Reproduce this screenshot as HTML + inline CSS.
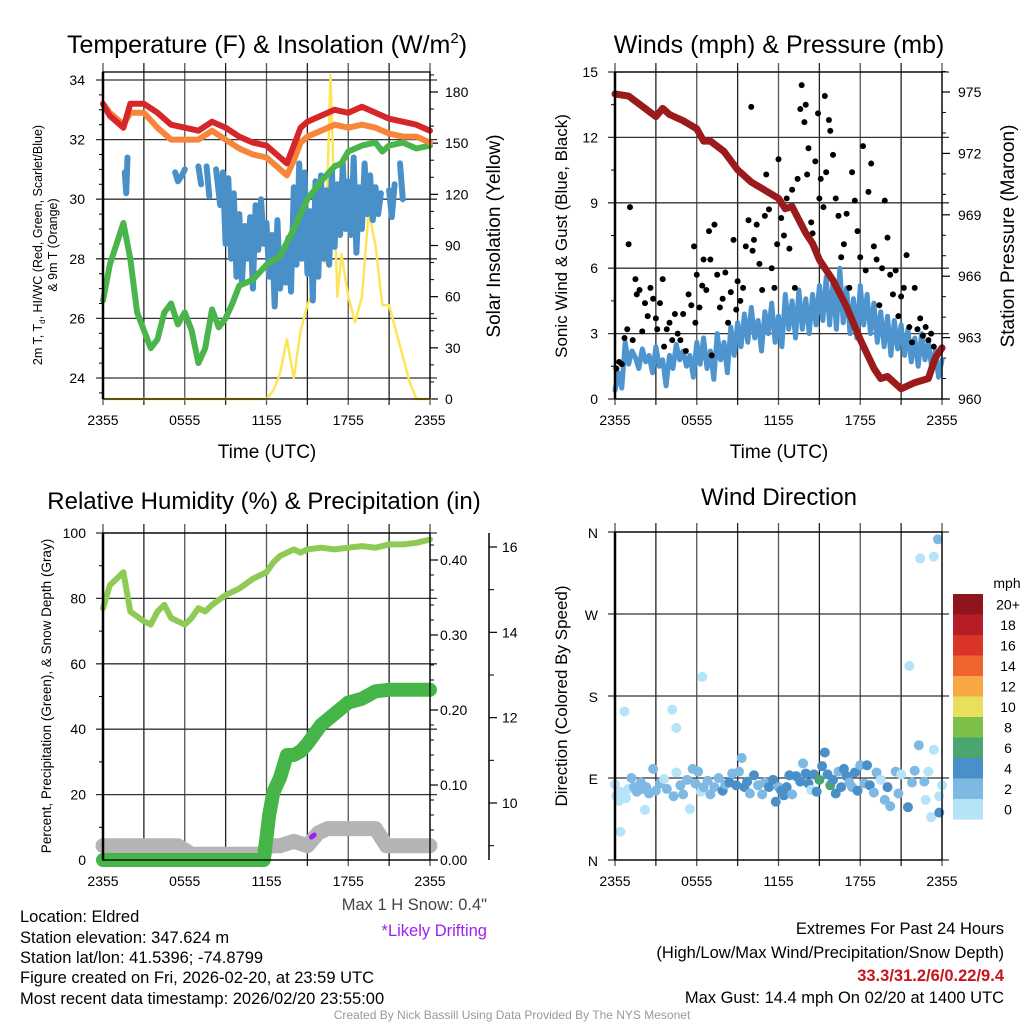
<!DOCTYPE html>
<html><head><meta charset="utf-8">
<style>
html,body{margin:0;padding:0;background:#fff;}
svg{display:block;font-family:"Liberation Sans",Arial,sans-serif;}
</style></head>
<body>
<svg id="chart" xmlns="http://www.w3.org/2000/svg" width="1024" height="1024" viewBox="0 0 1024 1024">
<rect width="1024" height="1024" fill="#fff"/>
<g id="g1"></g>
<g id="g2"></g>
<g id="g3"></g>
<g id="g4"></g>
<g id="txt" font-size="16.5">
<text x="267" y="53" font-size="25" text-anchor="middle">Temperature (F) &amp; Insolation (W/m<tspan font-size="15" dy="-10">2</tspan><tspan dy="10">)</tspan></text>
<text x="779" y="53" font-size="25" text-anchor="middle">Winds (mph) &amp; Pressure (mb)</text>
<text x="264" y="509" font-size="24" text-anchor="middle">Relative Humidity (%) &amp; Precipitation (in)</text>
<text x="779" y="505" font-size="24" text-anchor="middle">Wind Direction</text>
<text x="267" y="458" font-size="19" text-anchor="middle">Time (UTC)</text>
<text x="779" y="458" font-size="19" text-anchor="middle">Time (UTC)</text>
<text transform="translate(42,245) rotate(-90)" font-size="12.5" text-anchor="middle">2m T, T<tspan font-size="8" dy="3">d</tspan><tspan dy="-3">, HI/WC (Red, Green, Scarlet/Blue)</tspan></text>
<text transform="translate(57,245) rotate(-90)" font-size="12.5" text-anchor="middle">&amp; 9m T (Orange)</text>
<text transform="translate(500,236) rotate(-90)" font-size="19" text-anchor="middle">Solar Insolation (Yellow)</text>
<text transform="translate(567,236) rotate(-90)" font-size="17" text-anchor="middle">Sonic Wind &amp; Gust (Blue, Black)</text>
<text transform="translate(1014,236) rotate(-90)" font-size="19" text-anchor="middle">Station Pressure (Maroon)</text>
<text transform="translate(51,696) rotate(-90)" font-size="13.5" text-anchor="middle">Percent, Precipitation (Green), &amp; Snow Depth (Gray)</text>
<text transform="translate(567,696) rotate(-90)" font-size="17" text-anchor="middle">Direction (Colored By Speed)</text>
<text x="487" y="910" fill="#444" text-anchor="end">Max 1 H Snow: 0.4"</text>
<text x="487" y="936" fill="#a020f0" text-anchor="end">*Likely Drifting</text>
<text x="20" y="922">Location: Eldred</text>
<text x="20" y="943">Station elevation: 347.624 m</text>
<text x="20" y="963">Station lat/lon: 41.5396; -74.8799</text>
<text x="20" y="983">Figure created on Fri, 2026-02-20, at 23:59 UTC</text>
<text x="20" y="1004">Most recent data timestamp: 2026/02/20 23:55:00</text>
<text x="1004" y="934" text-anchor="end">Extremes For Past 24 Hours</text>
<text x="1004" y="958" text-anchor="end">(High/Low/Max Wind/Precipitation/Snow Depth)</text>
<text x="1004" y="981" text-anchor="end" fill="#c8141e" font-weight="bold">33.3/31.2/6/0.22/9.4</text>
<text x="1004" y="1003" text-anchor="end">Max Gust: 14.4 mph On 02/20 at 1400 UTC</text>
<text x="512" y="1019" text-anchor="middle" font-size="12" fill="#999">Created By Nick Bassill Using Data Provided By The NYS Mesonet</text>
</g>
</svg>
<script>
// ---------- data ----------
const xTickLabels = ["2355","0555","1155","1755","2355"];
const tempTicks = [24,26,28,30,32,34];
const insolTicks = [0,30,60,90,120,150,180];
const tempT = [0,0.5,1,1.5,2,3,4,5,6,7,8,9,10,11,12,13,13.5,14,14.5,15,16,17,18,19,20,21,22,23,24];
const tempRed = [33.2,32.8,32.6,32.4,33.2,33.2,32.9,32.5,32.4,32.3,32.6,32.4,32.1,31.9,31.8,31.4,31.2,31.8,32.4,32.6,32.8,33.0,32.9,33.1,32.9,32.7,32.6,32.5,32.3];
const tempOrange = [33.2,32.9,32.7,32.5,32.9,32.9,32.4,32.0,32.0,32.0,32.3,32.0,31.7,31.5,31.4,31.0,30.8,31.3,31.9,32.1,32.3,32.5,32.4,32.5,32.4,32.2,32.1,32.1,31.9];
const dewT = [0,0.5,1,1.5,2,2.5,3,3.5,4,4.5,5,5.5,6,6.5,7,7.5,8,8.5,9,9.5,10,11,12,13,14,15,16,17,17.5,18,19,20,20.5,21,22,23,24];
const dewV = [26.6,27.8,28.5,29.2,28.0,26.2,25.6,25.0,25.3,26.2,26.5,25.8,26.2,25.6,24.5,25.0,26.3,25.7,26.0,26.5,27.1,27.3,27.8,28.1,29.0,30.0,30.6,31.1,31.2,31.6,31.8,31.9,31.6,31.8,31.9,31.7,31.8];
const wcT = [1.6,1.7,1.8,null,5.3,5.5,5.8,6.0,null,7.0,7.2,null,7.6,7.8,null,8.3,8.6,8.8,9.0,9.2,9.4,9.6,9.8,10.0,10.2,10.4,10.6,10.8,11.0,11.2,11.4,11.6,11.8,12.0,12.2,12.4,12.6,12.8,13.0,13.2,13.4,13.6,13.8,14.0,14.2,14.4,14.6,14.8,15.0,15.2,15.4,15.6,15.8,16.0,16.2,16.4,16.6,16.8,17.0,17.2,17.4,17.6,17.8,18.0,18.2,18.4,18.6,18.8,19.0,19.2,19.4,19.6,19.8,20.0,20.2,20.4,null,21.0,21.2,21.4,null,21.8,22.0];
const wcV = [30.9,30.2,31.4,null,30.9,30.6,30.8,31.0,null,31.1,30.5,null,31.1,30.1,null,31.0,29.8,30.9,28.5,30.7,28.0,30.2,27.4,29.5,27.2,29.1,28.0,29.4,27.0,29.8,28.3,30.0,28.5,29.2,27.4,28.8,26.4,29.3,27.0,28.2,27.2,28.7,26.9,30.4,27.8,31.2,28.0,30.9,27.5,29.6,26.6,30.6,27.4,30.8,28.0,30.3,27.8,31.0,28.4,30.5,28.8,31.2,29.0,30.6,28.8,31.4,28.2,30.4,29.0,31.2,29.5,30.8,29.3,30.4,29.5,30.2,null,30.3,29.4,30.5,null,31.2,30.0];
const insolT = [0,12,12.5,13,13.5,14,14.5,15,15.5,16,16.3,16.7,17,17.2,17.5,18,18.5,19,19.5,20,20.5,21,21.5,22,22.5,23,24];
const insolV = [0,0,5,15,35,12,40,55,65,100,80,190,110,60,85,60,45,60,110,90,55,55,40,25,10,0,0];

const windTicks = [0,3,6,9,12,15];
const presTicks = [960,963,966,969,972,975];
const windStep = 0.25;
const windV = [0.4,1.2,0.5,2.6,1.6,2.2,1.9,1.4,2.3,1.7,2.0,1.2,2.4,1.5,1.8,0.6,2.0,1.4,2.5,1.8,2.2,1.5,2.0,1.0,2.6,1.6,2.8,1.4,2.2,0.9,3.0,1.8,2.6,1.2,3.3,2.0,3.5,2.4,3.9,2.6,4.2,2.8,3.6,2.2,4.0,3.0,4.4,2.6,3.8,2.4,4.8,3.2,4.5,2.8,5.0,3.2,4.6,3.0,4.8,3.4,5.2,3.6,5.6,3.4,5.4,3.2,6.0,3.5,5.1,3.0,4.6,2.8,5.2,3.4,4.8,3.0,4.4,2.6,4.0,2.4,3.8,2.0,3.6,2.3,3.4,2.0,3.2,1.7,2.8,1.5,3.0,1.8,2.6,1.4,2.2,1.0,1.8];
const gustT = [0.1,0.3,0.5,0.7,0.9,1.0,1.1,1.3,1.5,1.6,1.8,2.0,2.2,2.4,2.6,2.8,3.0,3.1,3.3,3.5,3.6,3.8,4.0,4.2,4.4,4.6,4.8,5.0,5.2,5.4,5.6,5.8,5.9,6.0,6.2,6.4,6.5,6.7,6.9,7.0,7.1,7.3,7.5,7.7,7.9,8.1,8.3,8.5,8.7,8.9,9.0,9.2,9.4,9.6,9.8,10.0,10.1,10.2,10.4,10.6,10.8,11.0,11.1,11.3,11.5,11.7,11.9,12.0,12.2,12.4,12.6,12.8,13.0,13.2,13.4,13.6,13.7,13.9,14.0,14.1,14.2,14.4,14.5,14.7,14.9,15.0,15.1,15.3,15.4,15.5,15.7,15.8,16.0,16.2,16.4,16.6,16.8,17.0,17.2,17.4,17.6,17.8,18.0,18.2,18.4,18.6,18.8,19.0,19.2,19.4,19.6,19.8,20.0,20.2,20.4,20.6,20.8,21.0,21.2,21.4,21.6,21.8,22.0,22.2,22.4,22.6,22.8,23.0,23.2,23.4];
const gustV = [1.4,1.7,1.6,2.8,3.2,7.1,8.8,2.7,5.5,4.8,5.0,3.1,4.4,3.8,5.1,4.6,3.7,3.2,4.4,5.5,2.4,3.2,3.5,2.7,3.9,3.0,2.7,3.9,2.2,4.8,4.3,7.0,3.5,5.7,4.2,5.2,6.4,5.0,7.7,6.4,2.0,8.0,5.7,4.2,4.6,5.8,3.5,4.9,7.3,4.1,5.4,4.5,5.1,7.0,8.2,13.4,6.8,7.3,8.0,6.2,5.0,8.4,10.3,8.7,6.0,5.1,7.1,11.0,8.3,7.5,9.2,6.9,9.6,5.1,10.1,13.3,14.4,12.7,13.5,10.3,11.5,8.1,7.6,10.9,13.1,9.2,10.1,8.8,13.9,10.4,12.8,12.3,11.2,9.2,8.4,6.5,7.1,8.5,5.1,10.4,9.1,7.7,6.5,11.6,5.9,9.5,10.8,7.0,6.4,4.3,6.0,9.1,7.4,5.7,4.8,5.9,3.8,4.7,5.1,6.6,3.3,2.6,5.1,3.2,3.7,2.9,3.3,2.7,3.0,2.4];
const presT = [0,1,2,3,3.5,4,5,6,6.5,7,8,9,10,11,12,12.5,13,14,14.5,15,16,17,18,19,19.5,20,21,22,23,23.5,24];
const presV = [974.9,974.8,974.3,973.8,974.2,973.9,973.6,973.2,972.6,972.6,972.1,971.2,970.6,970.2,969.8,969.3,969.4,968.1,967.6,966.8,965.8,964.5,962.9,961.5,961.0,961.1,960.5,960.8,961.0,962.0,962.5];

const rhTicks = [0,20,40,60,80,100];
const precipTicks = ["0.00","0.10","0.20","0.30","0.40"];
const snowTicks = [10,12,14,16];
const rhT = [0,0.5,1,1.5,2,3,3.5,4,4.5,5,6,6.5,7,7.5,8,9,10,11,12,12.5,13,14,14.5,15,16,17,18,19,20,21,22,23,24];
const rhV = [77,84,86,88,76,73,72,76,78,74,72,74,77,76,78,81,83,86,88,91,93,95,94,95,95.5,95,95.5,96,95.5,96.5,96.5,97,98];
const precipT = [0,11.8,12,12.2,12.5,13,13.5,14,14.5,15,16,17,18,19,20,21,24];
const precipV = [0,0,0.03,0.06,0.09,0.11,0.14,0.14,0.145,0.155,0.18,0.195,0.21,0.215,0.225,0.227,0.227];
const snowT = [0,5.5,6.5,11.5,12.3,13,14,15,15.8,16.5,20,20.8,24];
const snowV = [9.0,9.0,8.8,8.8,9.0,9.0,9.1,9.0,9.3,9.4,9.4,9.0,9.0];
const driftT = [15.3,15.5];
const driftV = [9.2,9.25];

const dirLabels = ["N","E","S","W","N"];
const dirT = [0,0.1,0.3,0.4,0.4,0.7,0.8,1.0,1.2,1.4,1.6,1.9,2.0,2.2,2.3,2.5,2.8,3.0,3.3,3.6,3.8,4.2,4.5,4.3,4.5,4.8,5.0,5.3,5.5,6.4,5.7,5.9,6.1,6.3,6.5,6.8,7.0,7.3,7.6,7.9,8.1,8.4,8.6,8.9,9.1,9.3,9.5,9.7,9.9,10.2,10.5,10.8,11.0,11.3,11.6,11.8,12.0,12.2,12.4,12.6,12.8,13.0,13.3,13.6,13.8,14.0,14.2,14.4,14.6,14.8,15.0,15.2,15.4,15.6,15.8,16.0,16.2,16.4,16.6,16.8,17.0,17.2,17.4,17.6,17.8,18.0,18.3,18.5,18.7,19.0,19.2,19.5,19.8,20.0,20.2,21.6,20.6,20.8,21.0,22.4,21.5,21.8,22.0,22.3,23.4,22.7,22.8,23.0,23.2,23.4,23.7,23.8,24.0,23.8];
const dirV = [83,70,65,75,31,163,68,78,90,80,75,85,78,55,80,73,100,76,84,89,78,165,145,70,96,82,72,88,56,201,100,84,97,75,80,87,72,80,90,76,83,85,95,82,97,112,80,86,73,93,82,72,85,80,88,64,80,76,71,80,93,72,92,86,106,95,84,77,94,75,88,103,118,94,82,88,73,97,80,100,92,85,80,96,76,104,84,104,82,74,96,88,66,80,59,213,97,73,94,331,58,85,98,126,333,86,66,97,47,121,352,70,82,52];
const dirS = [1.5,1.5,0.5,0.5,0.5,0.5,0.5,1.5,2.5,2,2,2.5,2,1,2.5,2.5,3,2,2,1.5,2.5,1,1,2,1.5,2,2,2,1,1,2.5,2,2,1,2,2,2.5,2,2.5,4,2,4,2.5,4,2.5,3,4,4,2.5,4,3,2,3,4,4,4.5,2.5,4.5,4.5,4,4,2.5,4,4,3,4.5,4,1.5,4.5,4,7,4.5,4.5,4,7,4.5,4,2.5,4.5,4.5,4,2.5,2.5,4,4.5,2.5,2.5,4.5,4.5,2.5,2.5,1.5,2.5,4,2,0.5,2,2.5,1,0.5,4,2,2.5,3,0.5,2.5,1,1,1,1,2.5,1,1,4.5];
const cbLabels = ["20+","18","16","14","12","10","8","6","4","2","0"];
const cbColors = ["#8e151b","#b81c25","#dc3329","#f06430","#f7a845","#e8e05a","#7cc04a","#4aa66e","#4a90c8","#7db9e3","#b5e3f8"];

// ---------- helpers ----------
const NS = "http://www.w3.org/2000/svg";
function mk(parent, tag, attrs) {
  const e = document.createElementNS(NS, tag);
  for (const k in attrs) e.setAttribute(k, attrs[k]);
  parent.appendChild(e);
  return e;
}
function txt(parent, x, y, s, anchor, size) {
  const e = mk(parent, "text", {x: x, y: y, "text-anchor": anchor, "font-size": size});
  e.textContent = s;
  return e;
}
function linear(d0, d1, r0, r1) { return v => r0 + (v - d0) * (r1 - r0) / (d1 - d0); }
function pathFrom(ts, vs, xs, ys) {
  let d = "", pen = false;
  for (let i = 0; i < ts.length; i++) {
    if (ts[i] === null || vs[i] === null) { pen = false; continue; }
    d += (pen ? "L" : "M") + xs(ts[i]).toFixed(1) + "," + ys(vs[i]).toFixed(1);
    pen = true;
  }
  return d;
}
const L = 103, R = 430, L2 = 615, R2 = 942;

function frame(g, x0, x1, y0, y1, hGrid, topExt) {
  const xs = linear(0, 24, x0, x1);
  const grid = mk(g, "g", {});
  
  
  for (let h = 0; h <= 24; h += 3) {
    const gl = mk(grid, "line", {x1: xs(h), x2: xs(h), y1: y0 - topExt, y2: y1 + 6, stroke: (h % 6 === 0) ? "#555" : "#222", "stroke-width": 1.3});
    
    
  }
  hGrid.forEach(y => {
    const hl = mk(grid, "line", {x1: x0 - 7, x2: x1 + 7, y1: y, y2: y, stroke: "#333", "stroke-width": 1.3});
    
    
  });
  const labs = mk(g, "g", {});
  
  
  xTickLabels.forEach((s, i) => {
    const t = txt(labs, xs(i * 6), y1 + 26, s, "middle", 14);
    
    
  });
  return xs;
}
function border(g, x0, x1, y0, y1) {
  mk(g, "rect", {x: x0, y: y0, width: x1 - x0, height: y1 - y0, fill: "none", stroke: "#000", "stroke-width": 1.3});
  mk(g, "line", {x1: x0, x2: x0, y1: y0, y2: y1, stroke: "#000", "stroke-width": 2.5});
}
function series(g, name, d, color, w, opacity) {
  const p = mk(g, "path", {d: d, fill: "none", stroke: color, "stroke-width": w, "stroke-linejoin": "round", "stroke-linecap": "round", opacity: opacity || 1});
  
  
  return p;
}

// ---------- panel 1 ----------
(function(){
  const g = document.getElementById("g1");
  const y0 = 72, y1 = 399;
  const ys = linear(24, 34, 378, 80);
  const yi = linear(0, 180, 399, 92);
  const xs = frame(g, L, R, y0, y1, tempTicks.map(ys), 9);
  const lab = mk(g, "g", {});
  tempTicks.forEach(v => {
    const t = txt(lab, 85, ys(v) + 5, String(v), "end", 14);
    
    
  });
  for (let v = 23.5; v <= 34; v += 0.5) if (v % 2) mk(lab, "line", {x1: L - 4, x2: L, y1: ys(v), y2: ys(v), stroke: "#000"});
  insolTicks.forEach(v => {
    mk(lab, "line", {x1: R, x2: R + 8, y1: yi(v), y2: yi(v), stroke: "#000", "stroke-width": 1.2});
    const t = txt(lab, 445, yi(v) + 5, String(v), "start", 14);
    
    
  });
  for (let v = 10; v <= 190; v += 10) if (v % 30) mk(lab, "line", {x1: R, x2: R + 4, y1: yi(v), y2: yi(v), stroke: "#000"});
  series(g, "insolation-line", pathFrom(insolT, insolV, xs, yi), "#fde55a", 2.5);
  series(g, "wind-chill-line", pathFrom(wcT, wcV, xs, ys), "#4a90c8", 6);
  series(g, "dewpoint-line", pathFrom(dewT, dewV, xs, ys), "#4ab54a", 6);
  series(g, "temp-9m-line", pathFrom(tempT, tempOrange, xs, ys), "#f7853a", 6);
  series(g, "temp-2m-line", pathFrom(tempT, tempRed, xs, ys), "#d7262a", 6);
  border(g, L, R, y0, y1);
})();

// ---------- panel 2 ----------
(function(){
  const g = document.getElementById("g2");
  const y0 = 72, y1 = 399;
  const ys = linear(0, 15, 399, 72);
  const yp = linear(960, 975, 399, 92);
  const xs = frame(g, L2, R2, y0, y1, windTicks.map(ys), 9);
  const lab = mk(g, "g", {});
  windTicks.forEach(v => {
    const t = txt(lab, 598, ys(v) + 5, String(v), "end", 14);
    
    
  });
  for (let v = 1.5; v < 15; v += 3) mk(lab, "line", {x1: L2 - 4, x2: L2, y1: ys(v), y2: ys(v), stroke: "#000"});
  presTicks.forEach(v => {
    mk(lab, "line", {x1: R2, x2: R2 + 8, y1: yp(v), y2: yp(v), stroke: "#000", "stroke-width": 1.2});
    const t = txt(lab, 958, yp(v) + 5, String(v), "start", 14);
    
    
  });
  for (let v = 961; v <= 976; v += 1) if ((v - 960) % 3) mk(lab, "line", {x1: R2, x2: R2 + 4, y1: yp(v), y2: yp(v), stroke: "#000"});
  const wt = windV.map((_, i) => i * windStep);
  series(g, "wind-speed-line", pathFrom(wt, windV, xs, ys), "#4e95cf", 5);
  const gd = mk(g, "g", {});
  
  
  gustT.forEach((t, i) => {
    const c = mk(gd, "circle", {cx: xs(t), cy: ys(gustV[i]), r: 3, fill: "#000"});
    
    
  });
  series(g, "pressure-line", pathFrom(presT, presV, xs, yp), "#9b1a1c", 7);
  border(g, L2, R2, y0, y1);
})();

// ---------- panel 3 ----------
(function(){
  const g = document.getElementById("g3");
  const y0 = 533, y1 = 860;
  const ys = linear(0, 100, 860, 533);
  const yr = linear(0, 0.4, 860, 560);
  const ysn = linear(10, 16, 803, 547);
  const xs = frame(g, L, R, y0, y1, rhTicks.map(ys), 9);
  const lab = mk(g, "g", {});
  rhTicks.forEach(v => {
    const t = txt(lab, 86, ys(v) + 5, String(v), "end", 14);
    
    
  });
  for (let v = 10; v < 100; v += 20) mk(lab, "line", {x1: L - 4, x2: L, y1: ys(v), y2: ys(v), stroke: "#000"});
  precipTicks.forEach((s, i) => {
    const v = parseFloat(s);
    mk(lab, "line", {x1: R, x2: R + 8, y1: yr(v), y2: yr(v), stroke: "#000", "stroke-width": 1.2});
    const t = txt(lab, 440, yr(v) + 5, s, "start", 14);
    
    
  });
  for (let v = 0.02; v < 0.44; v += 0.02) mk(lab, "line", {x1: R, x2: R + 4, y1: yr(v), y2: yr(v), stroke: "#000"});
  mk(lab, "line", {x1: 489, x2: 489, y1: 533, y2: 860, stroke: "#000", "stroke-width": 1.5});
  snowTicks.forEach(v => {
    mk(lab, "line", {x1: 489, x2: 497, y1: ysn(v), y2: ysn(v), stroke: "#000", "stroke-width": 1.2});
    const t = txt(lab, 502, ysn(v) + 5, String(v), "start", 14);
    
    
  });
  for (let v = 9; v <= 16; v += 2) mk(lab, "line", {x1: 489, x2: 494, y1: ysn(v), y2: ysn(v), stroke: "#000"});
  series(g, "snow-depth-line", pathFrom(snowT, snowV, xs, ysn), "#b4b4b4", 15);
  series(g, "humidity-line", pathFrom(rhT, rhV, xs, ys), "#8ecb54", 6);
  series(g, "precip-line", pathFrom(precipT, precipV, xs, yr), "#46b548", 14);
  series(g, "drifting-marker", pathFrom(driftT, driftV, xs, ysn), "#a020f0", 5);
  border(g, L, R, y0, y1);
})();

// ---------- panel 4 ----------
(function(){
  const g = document.getElementById("g4");
  const y0 = 532, y1 = 860;
  const yd = linear(0, 360, 860, 532);
  const xs = frame(g, L2, R2, y0, y1, dirLabels.map((_, i) => yd(i * 90)), 9);
  const lab = mk(g, "g", {});
  dirLabels.forEach((s, i) => {
    const t = txt(lab, 598, yd(i * 90) + 6, s, "end", 14);
    
    
  });
  const pts = mk(g, "g", {});
  
  
  dirT.forEach((t, i) => {
    let k = Math.floor(dirS[i] / 2); if (k > 10) k = 10;
    const c = mk(pts, "circle", {cx: xs(t), cy: yd(dirV[i]), r: 5, fill: cbColors[10 - k]});
    
    
  });
  border(g, L2, R2, y0, y1);
  const cb = mk(g, "g", {});
  
  
  const t0 = txt(cb, 1007, 588, "mph", "middle", 14);
  
  
  cbColors.forEach((c, i) => {
    const r = mk(cb, "rect", {x: 953, y: 594 + i * 20.5, width: 30, height: 20.6, fill: c});
    
    
    const t = txt(cb, 1008, 594 + i * 20.5 + 15.5, cbLabels[i], "middle", 14);
    
    
  });
})();
</script>
</body></html>
